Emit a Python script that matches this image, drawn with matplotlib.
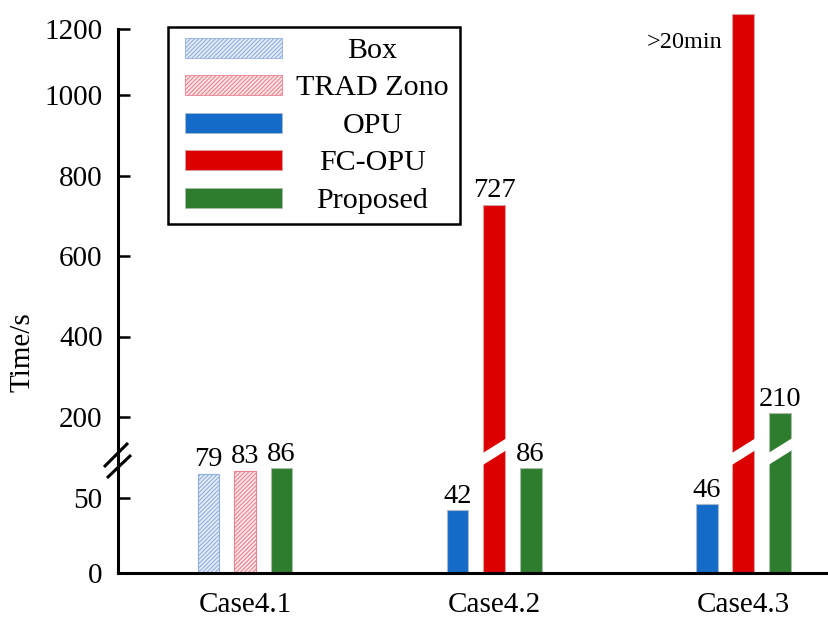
import numpy as np
import matplotlib
matplotlib.use('Agg')
import matplotlib.pyplot as plt
import matplotlib.transforms as mtransforms
from matplotlib.patches import Rectangle, Polygon
from matplotlib.text import Text
from matplotlib.legend_handler import HandlerBase

plt.rcParams['font.family'] = ['Liberation Serif', 'DejaVu Serif']
plt.rcParams['hatch.linewidth'] = 0.8

# ---------------- data ----------------
cases = ['Case4.1', 'Case4.2', 'Case4.3']
methods = ['Box', 'TRAD Zono', 'OPU', 'FC-OPU', 'Proposed']
box_vals = [79, np.nan, np.nan]
trad_vals = [83, np.nan, np.nan]
opu_vals = [np.nan, 42, 46]
fcopu_vals = [np.nan, 727, 1245]          # Case4.3 did not finish (>20 min)
proposed_vals = [86, 86, 210]
fcopu_labels = ['', '727', '>20min']
ytick_vals = [0, 50, 200, 400, 600, 800, 1000, 1200]

series = {
    'Box': box_vals,
    'TRAD Zono': trad_vals,
    'OPU': opu_vals,
    'FC-OPU': fcopu_vals,
    'Proposed': proposed_vals,
}

# ---------------- style ----------------
slot = {'Box': -1, 'TRAD Zono': 0, 'OPU': -1, 'FC-OPU': 0, 'Proposed': 1}
style = {
    'Box': dict(facecolor='#e6edf9', edgecolor='#8fafe0', hatch='////////', linewidth=0.8),
    'TRAD Zono': dict(facecolor='#fce6e8', edgecolor='#ec8390', hatch='////////', linewidth=0.8),
    'OPU': dict(facecolor='#156bc8', edgecolor='#a9b9cc', linewidth=0.8),
    'FC-OPU': dict(facecolor='#dd0000', edgecolor='#d9a0a0', linewidth=0.8),
    'Proposed': dict(facecolor='#2e7d2e', edgecolor='#a9bba9', linewidth=0.8),
}
bar_w = 0.088
slot_gap = 0.1466

# broken-axis scale: lower segment expanded, upper segment compressed
knot_v = np.array([0, 50, 86, 100, 200, 1000, 1200], dtype=float)
knot_p = np.array([0, 75, 105, 121, 156, 478, 544], dtype=float)


def _pw(x, xs, ys):
    x = np.asarray(x, dtype=float)
    y = np.interp(x, xs, ys)
    y = np.where(x > xs[-1], ys[-1] + (x - xs[-1]) * (ys[-1] - ys[-2]) / (xs[-1] - xs[-2]), y)
    y = np.where(x < xs[0], ys[0] + (x - xs[0]) * (ys[1] - ys[0]) / (xs[1] - xs[0]), y)
    return y


def fwd(v):
    return _pw(v, knot_v, knot_p)


def inv(p):
    return _pw(p, knot_p, knot_v)


break_val = 100

fig = plt.figure(figsize=(8.29, 6.30), dpi=100)
ax = fig.add_axes([118 / 829, 57 / 630, 711 / 829, 544 / 630])
ax.set_yscale('function', functions=(fwd, inv))
ax.set_ylim(0, 1200)
ax.set_xlim(-0.51, 2.345)

xg = np.arange(len(cases))
handles = {}
for m in methods:
    vals = np.array(series[m], dtype=float)
    ok = ~np.isnan(vals)
    xs = xg[ok] + slot[m] * slot_gap
    bc = ax.bar(xs, vals[ok], width=bar_w, zorder=2, clip_on=False, **style[m])
    handles[m] = bc.patches[0]

# value labels
label_fs = 20.5
for m in methods:
    vals = np.array(series[m], dtype=float)
    for i, v in enumerate(vals):
        if np.isnan(v):
            continue
        x = xg[i] + slot[m] * slot_gap
        if m == 'FC-OPU':
            txt = fcopu_labels[i]
            if txt.startswith('>'):
                ax.annotate(txt, xy=(x - bar_w / 2, v), xytext=(-10, -28),
                            textcoords='offset pixels', ha='right', va='center',
                            fontsize=17.5, annotation_clip=False)
                continue
        else:
            txt = f'{int(v)}'
        ax.annotate(txt, xy=(x, v), xytext=(0, 1.0), textcoords='offset points',
                    ha='center', va='bottom', fontsize=label_fs, annotation_clip=False)

# white break bands across bars that pass the break
frac = float(fwd(break_val) / fwd(1200))
blend = mtransforms.blended_transform_factory(ax.transData, ax.transAxes)
rise = 12 / 544
thick = 12 / 544
for m in methods:
    vals = np.array(series[m], dtype=float)
    for i, v in enumerate(vals):
        if np.isnan(v) or v <= break_val * 1.5:
            continue
        x = xg[i] + slot[m] * slot_gap
        x0, x1 = x - bar_w / 2 - 0.012, x + bar_w / 2 + 0.012
        c = frac
        pts = [(x0, c - rise / 2 - thick / 2 - 0.005), (x1, c + rise / 2 - thick / 2 + 0.005),
               (x1, c + rise / 2 + thick / 2 + 0.005), (x0, c - rise / 2 + thick / 2 - 0.005)]
        ax.add_patch(Polygon(pts, closed=True, facecolor='white', edgecolor='none',
                             transform=blend, zorder=3, clip_on=False))

# spine break marks
W, H = 711.0, 544.0
for (xa, ya, xb, yb) in [(-14, 467, 10, 443), (-11, 478, 13, 455)]:
    ax.plot([xa / W, xb / W], [(573 - ya) / H, (573 - yb) / H], color='black', lw=2.2,
            transform=ax.transAxes, clip_on=False, zorder=5, solid_capstyle='butt')

# axes styling
for s in ['top', 'right']:
    ax.spines[s].set_visible(False)
ax.spines['left'].set_linewidth(2.2)
ax.spines['bottom'].set_linewidth(2.2)
ax.set_yticks(ytick_vals)
ax.set_yticklabels([str(t) for t in ytick_vals])
ax.tick_params(axis='y', direction='in', length=8.5, width=1.8, labelsize=21, pad=11)
ax.set_xticks(xg)
ax.set_xticklabels(cases)
ax.tick_params(axis='x', length=0, labelsize=21, pad=14)
ax.yaxis.set_minor_locator(matplotlib.ticker.NullLocator())
ax.set_ylabel('Time/s', fontsize=21)
ax.yaxis.set_label_coords(-0.116, 0.406)


# legend with centred text column
class RowHandler(HandlerBase):
    def __init__(self, label):
        super().__init__()
        self.label = label

    def create_artists(self, legend, orig_handle, xdescent, ydescent, width, height,
                       fontsize, trans):
        x0 = -xdescent + 0.25 * fontsize
        r = Rectangle((x0, -ydescent), 3.49 * fontsize, height)
        r.update_from(orig_handle)
        r.set_linewidth(0.6)
        r.set_transform(trans)
        t = Text(x0 + 6.73 * fontsize, -ydescent + height / 2 - 0.36 * fontsize, self.label,
                 ha='center', va='baseline', fontsize=fontsize * 1.08,
                 fontfamily=['Liberation Serif', 'DejaVu Serif'])
        t.set_transform(trans)
        return [r, t]


hl = [handles[m] for m in methods]
leg = ax.legend(hl, [''] * len(hl), loc='upper left',
                bbox_to_anchor=((168 - 118) / W, (573 - 27) / H), borderaxespad=0,
                handler_map={handles[m]: RowHandler(m) for m in methods},
                handlelength=9.75, handleheight=0.75, handletextpad=0, labelspacing=0.42,
                borderpad=0.38, fontsize=20, fancybox=False, framealpha=1, edgecolor='black')
leg.get_frame().set_linewidth(1.8)

fig.savefig('out.png', dpi=100)
